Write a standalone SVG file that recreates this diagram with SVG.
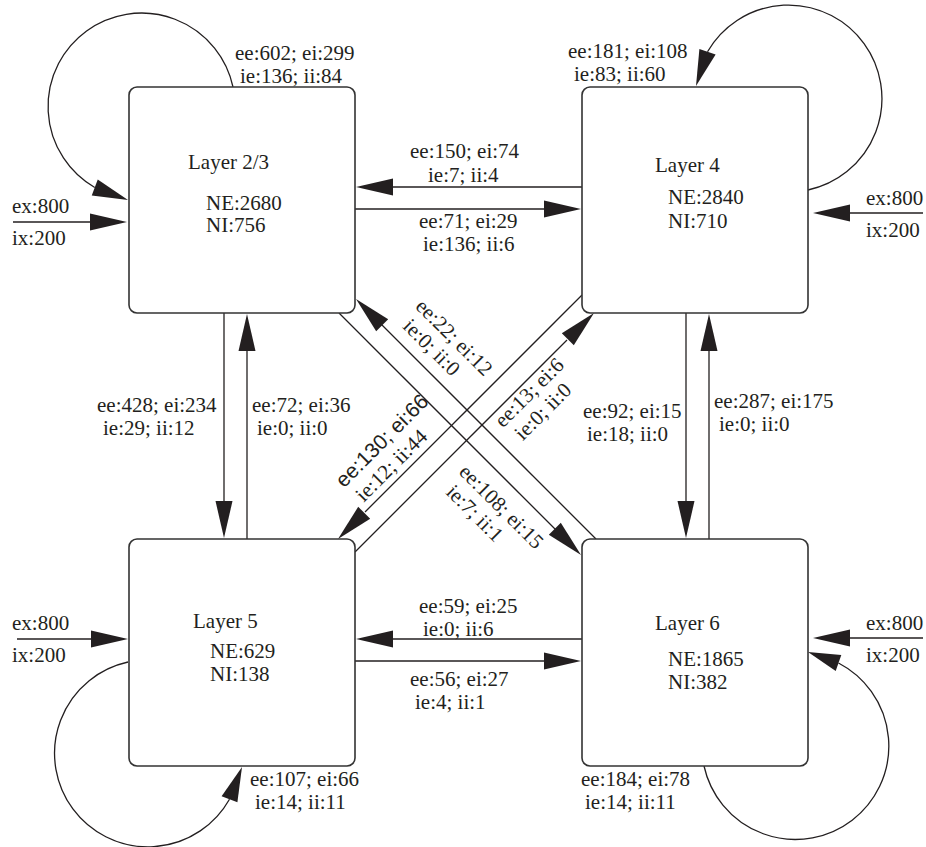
<svg xmlns="http://www.w3.org/2000/svg" width="926" height="847" viewBox="0 0 926 847">
<style>
.box{fill:#fff;stroke:#333;stroke-width:1.6}
.t{font-family:"Liberation Serif","Times New Roman",serif;font-size:21px;fill:#231f20}
.s{font-family:"Liberation Sans",Arial,sans-serif;font-size:21px;fill:#231f20}
.e{fill:none;stroke:#231f20;stroke-width:1.3}
.h{fill:#231f20;stroke:none}
</style>
<rect width="926" height="847" fill="#fff"/>
<g id="connectors">
  <path class="e" d="M233,87 A93.5,93.5 0 1,0 94.75,187.5"/>
  <polygon class="h" points="128,200 91.75,195.5 97.75,179.5"/>
  <path class="e" d="M808,190 A93.5,93.5 0 1,0 707.5,51.75"/>
  <polygon class="h" points="696,86 699.4,49 715.6,54.5"/>
  <path class="e" d="M128,662 A93.5,93.5 0 1,0 229.5,799.25"/>
  <polygon class="h" points="242,767 237.4,802.3 221.6,796.2"/>
  <path class="e" d="M704,766 A93.5,93.5 0 1,0 838.5,663"/>
  <polygon class="h" points="808,652 841.3,655 835.7,671"/>
  <line class="e" x1="13" y1="222" x2="91" y2="222"/>
  <polygon class="h" points="127,222 90,213.5 90,230.5"/>
  <line class="e" x1="923" y1="213" x2="849" y2="213"/>
  <polygon class="h" points="813,213 850,204.5 850,221.5"/>
  <line class="e" x1="17" y1="639" x2="92" y2="639"/>
  <polygon class="h" points="128,639 91,630.5 91,647.5"/>
  <line class="e" x1="923" y1="638" x2="849" y2="638"/>
  <polygon class="h" points="813,638 850,629.5 850,646.5"/>
  <line class="e" x1="582" y1="187" x2="392" y2="187"/>
  <polygon class="h" points="356,187 393,178.5 393,195.5"/>
  <line class="e" x1="355" y1="209" x2="545" y2="209"/>
  <polygon class="h" points="581,209 544,200.5 544,217.5"/>
  <line class="e" x1="582" y1="639" x2="392" y2="639"/>
  <polygon class="h" points="356,639 393,630.5 393,647.5"/>
  <line class="e" x1="355" y1="661" x2="545" y2="661"/>
  <polygon class="h" points="581,661 544,652.5 544,669.5"/>
  <line class="e" x1="224" y1="313" x2="224" y2="502"/>
  <polygon class="h" points="224,538 215.5,501 232.5,501"/>
  <line class="e" x1="247" y1="539" x2="247" y2="350"/>
  <polygon class="h" points="247,314 238.5,351 255.5,351"/>
  <line class="e" x1="686" y1="313" x2="686" y2="502"/>
  <polygon class="h" points="686,538 677.5,501 694.5,501"/>
  <line class="e" x1="709" y1="539" x2="709" y2="350"/>
  <polygon class="h" points="709,314 700.5,351 717.5,351"/>
  <line class="e" x1="339" y1="313" x2="556" y2="530"/>
  <polygon class="h" points="581,555 548.8,534.8 560.8,522.8"/>
  <line class="e" x1="596" y1="539" x2="381" y2="324"/>
  <polygon class="h" points="356,299 388.2,319.2 376.2,331.2"/>
  <line class="e" x1="582" y1="295" x2="365" y2="512"/>
  <polygon class="h" points="338,539 358.2,506.8 370.2,518.8"/>
  <line class="e" x1="355" y1="552" x2="567" y2="340"/>
  <polygon class="h" points="594,313 573.8,345.2 561.8,333.2"/>
</g>
<g id="layer23">
  <rect class="box" x="129" y="87" width="226" height="226" rx="8"/>
  <text class="t" x="188" y="169">Layer 2/3</text>
  <text class="t" x="206" y="210">NE:2680</text>
  <text class="t" x="206" y="232">NI:756</text>
</g>
<g id="layer4">
  <rect class="box" x="582" y="87" width="226" height="226" rx="8"/>
  <text class="t" x="655" y="172">Layer 4</text>
  <text class="t" x="668" y="204">NE:2840</text>
  <text class="t" x="668" y="227.5">NI:710</text>
</g>
<g id="layer5">
  <rect class="box" x="129" y="539" width="226" height="227" rx="8"/>
  <text class="t" x="193" y="627.5">Layer 5</text>
  <text class="t" x="210" y="657.5">NE:629</text>
  <text class="t" x="210" y="680.5">NI:138</text>
</g>
<g id="layer6">
  <rect class="box" x="582" y="539" width="226" height="227" rx="8"/>
  <text class="t" x="655" y="630">Layer 6</text>
  <text class="t" x="668" y="665.5">NE:1865</text>
  <text class="t" x="668" y="689">NI:382</text>
</g>
<g id="labels">
  <text class="t" x="235" y="60">ee:602; ei:299</text>
  <text class="t" x="240" y="83">ie:136; ii:84</text>
  <text class="t" x="568" y="58">ee:181; ei:108</text>
  <text class="t" x="574" y="81">ie:83; ii:60</text>
  <text class="t" x="250" y="786">ee:107; ei:66</text>
  <text class="t" x="255" y="809">ie:14; ii:11</text>
  <text class="t" x="581" y="786">ee:184; ei:78</text>
  <text class="t" x="585" y="809">ie:14; ii:11</text>

  <text class="t" x="12" y="213">ex:800</text>
  <text class="t" x="12" y="245">ix:200</text>
  <text class="t" x="866" y="205">ex:800</text>
  <text class="t" x="866" y="237">ix:200</text>
  <text class="t" x="12" y="630">ex:800</text>
  <text class="t" x="12" y="662">ix:200</text>
  <text class="t" x="866" y="630">ex:800</text>
  <text class="t" x="866" y="662">ix:200</text>

  <text class="t" x="410" y="158">ee:150; ei:74</text>
  <text class="t" x="428" y="181.5">ie:7; ii:4</text>
  <text class="t" x="419" y="227.5">ee:71; ei:29</text>
  <text class="t" x="423" y="250.5">ie:136; ii:6</text>
  <text class="t" x="419" y="612.5">ee:59; ei:25</text>
  <text class="t" x="423" y="635.5">ie:0; ii:6</text>
  <text class="t" x="410" y="686">ee:56; ei:27</text>
  <text class="t" x="415" y="709">ie:4; ii:1</text>

  <text class="t" x="97" y="412">ee:428; ei:234</text>
  <text class="t" x="103" y="435">ie:29; ii:12</text>
  <text class="t" x="252" y="412">ee:72; ei:36</text>
  <text class="t" x="257" y="435">ie:0; ii:0</text>
  <text class="t" x="583" y="418">ee:92; ei:15</text>
  <text class="t" x="587" y="441">ie:18; ii:0</text>
  <text class="t" x="714" y="408">ee:287; ei:175</text>
  <text class="t" x="719" y="431">ie:0; ii:0</text>

  <g transform="translate(414.5,307.5) rotate(45)">
    <text class="t" x="0" y="0">ee:22; ei:12</text>
    <text class="t" x="5" y="23">ie:0; ii:0</text>
  </g>
  <g transform="translate(458,473) rotate(45)">
    <text class="t" x="0" y="0">ee:108; ei:15</text>
    <text class="t" x="5" y="23.5">ie:7; ii:1</text>
  </g>
  <g transform="translate(503,428.5) rotate(-45)">
    <text class="t" x="0" y="0">ee:13; ei:6</text>
    <text class="t" x="5" y="23">ie:0; ii:0</text>
  </g>
  <g transform="translate(344,488.5) rotate(-45)">
    <text class="s" x="0" y="0">ee:130; ei:66</text>
    <text class="t" x="4" y="24">ie:12; ii:44</text>
  </g>
</g>
</svg>
